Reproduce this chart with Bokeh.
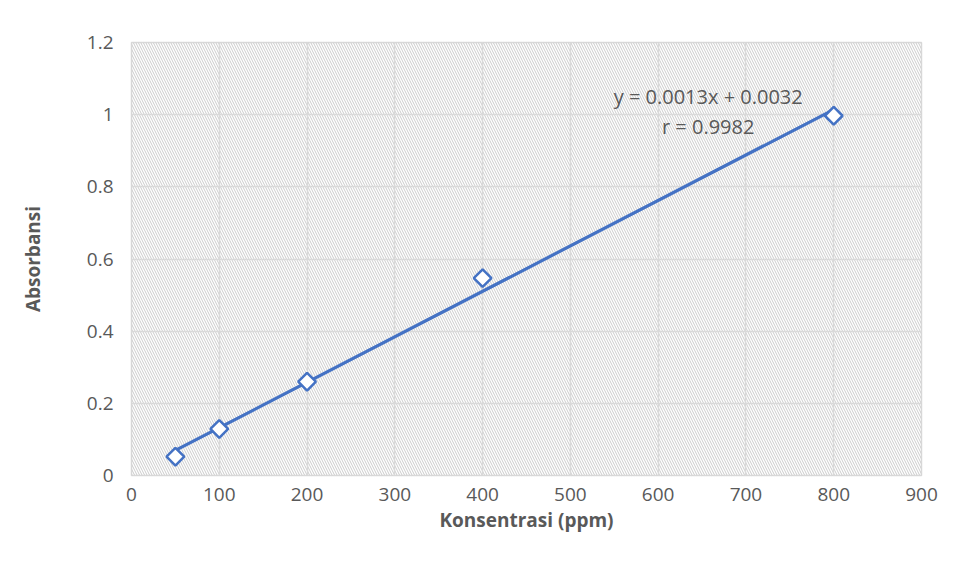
import numpy as np
from bokeh.plotting import figure
from bokeh.models import BoxAnnotation, Label, FixedTicker, ColumnDataSource
from bokeh.embed import file_html
from bokeh.resources import INLINE

# Data
konsentrasi = [50, 100, 200, 400, 800]
absorbansi = [0.052, 0.129, 0.260, 0.547, 0.997]
x_ticks = [0, 100, 200, 300, 400, 500, 600, 700, 800, 900]
y_ticks = [0, 0.2, 0.4, 0.6, 0.8, 1.0, 1.2]
eq_text = "y = 0.0013x + 0.0032"
r_text = "r = 0.9982"

BLUE = "#4472C4"
GRID = "#d9d9d9"
TXT = "#595959"
FONT = "Open Sans"

p = figure(width=950, height=575, x_range=(0, 900), y_range=(0, 1.2),
           output_backend="svg", toolbar_location=None,
           min_border_left=131, min_border_top=42, min_border_right=29,
           min_border_bottom=100)
p.outline_line_color = GRID
p.outline_line_width = 1.5
p.background_fill_color = "white"
p.border_fill_color = "white"

# hatched plot area
hatch = BoxAnnotation(fill_alpha=0, line_alpha=0, hatch_pattern="left_diagonal_line",
                      hatch_color="#cbcbcb", hatch_scale=5, hatch_weight=1, level="image")
p.add_layout(hatch)

p.xaxis.ticker = FixedTicker(ticks=x_ticks)
p.yaxis.ticker = FixedTicker(ticks=y_ticks)
p.yaxis.major_label_overrides = {0: "0", 0.2: "0.2", 0.4: "0.4", 0.6: "0.6",
                                 0.8: "0.8", 1.0: "1", 1.2: "1.2"}
for ax in (p.xaxis, p.yaxis):
    ax.axis_line_color = None
    ax.major_tick_line_color = None
    ax.minor_tick_line_color = None
    ax.major_label_text_font = FONT
    ax.major_label_text_font_size = "19px"
    ax.major_label_text_color = TXT
    ax.axis_label_text_font = FONT
    ax.axis_label_text_font_size = "19px"
    ax.axis_label_text_font_style = "bold"
    ax.axis_label_text_color = TXT
p.xaxis.axis_label = "Konsentrasi (ppm)"
p.yaxis.axis_label = "Absorbansi"
p.xaxis.major_label_standoff = 6
p.yaxis.major_label_standoff = 12
p.xaxis.axis_label_standoff = 3
p.yaxis.axis_label_standoff = 38

for g in (p.xgrid, p.ygrid):
    g.grid_line_color = GRID
    g.grid_line_width = 1.5
    g.level = "underlay"

# linear trendline from the data
slope, intercept = np.polyfit(konsentrasi, absorbansi, 1)
tx = [min(konsentrasi), max(konsentrasi)]
ty = [slope * v + intercept for v in tx]
p.line(tx, ty, line_color=BLUE, line_width=3.2)

src = ColumnDataSource(dict(x=konsentrasi, y=absorbansi))
p.scatter("x", "y", source=src, marker="square", angle=np.pi / 4, size=12.5,
          fill_color="white", line_color=BLUE, line_width=2.5)

p.add_layout(Label(x=657, y=1.050, text=eq_text, text_align="center",
                   text_baseline="middle", text_font=FONT, text_font_size="20px",
                   text_color=TXT))
p.add_layout(Label(x=657, y=0.968, text=r_text, text_align="center",
                   text_baseline="middle", text_font=FONT, text_font_size="20px",
                   text_color=TXT))

open("out.html", "w").write(file_html(p, INLINE))
